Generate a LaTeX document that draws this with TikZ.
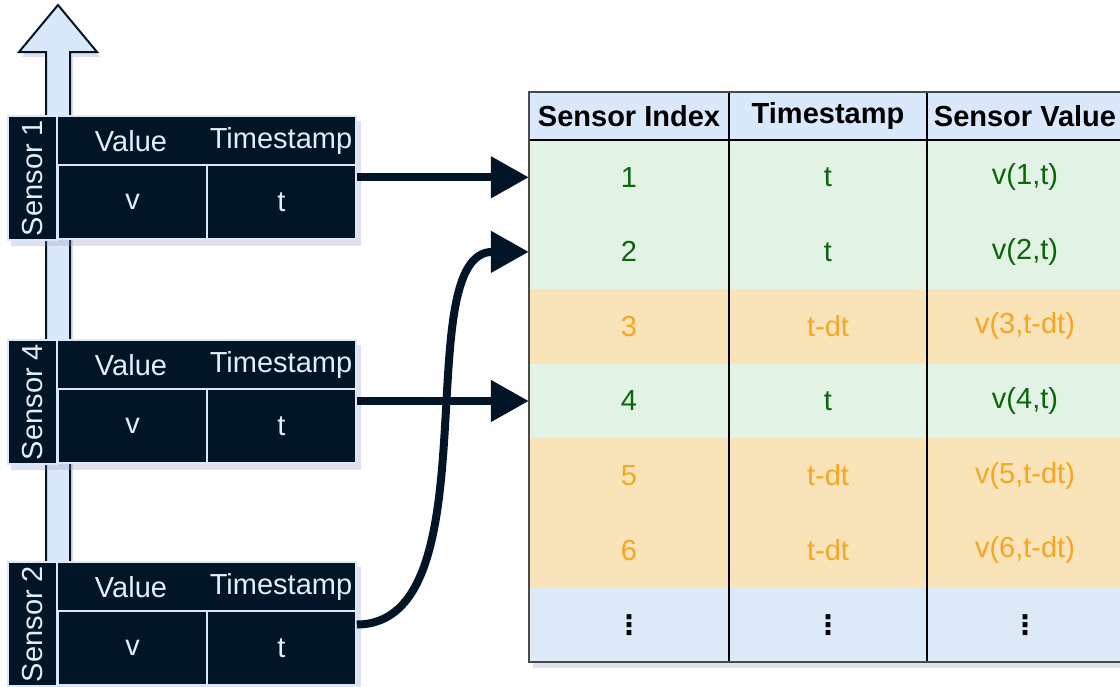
\documentclass[tikz,border=0pt]{standalone}
\usepackage{fontspec}
\setmainfont{Liberation Sans}
\newfontfamily\dotsfont{DejaVu Sans}
\usetikzlibrary{arrows.meta,calc}
\definecolor{dark}{HTML}{011526}
\definecolor{lightb}{HTML}{DAE8FC}
\definecolor{celltext}{HTML}{E4EEF9}
\definecolor{gbg}{HTML}{E2F2E5}
\definecolor{obg}{HTML}{F9E3B8}
\definecolor{bbg}{HTML}{DCE9F7}
\definecolor{gtx}{HTML}{0B660B}
\definecolor{otx}{HTML}{F5A623}
\definecolor{shadowc}{HTML}{8A94B6}
\definecolor{frame}{HTML}{4A4A4A}
\newcommand{\vdotsmark}{{\dotsfont\bfseries\fontsize{27}{30}\selectfont ⋮}}
\begin{document}
\begin{tikzpicture}[x=1pt,y=-1pt,
  font=\fontsize{29}{34}\selectfont,
  dcell/.style={draw=lightb, line width=1.5pt, fill=dark, text=celltext, inner sep=0pt},
  lighttext/.style={text=celltext, inner sep=0pt},
  rowband/.style={draw=none, inner sep=0pt, minimum width=594pt, minimum height=74.57pt},
  hdrtext/.style={font=\fontsize{29}{34}\selectfont\bfseries, text=black, inner sep=0pt},
  conn/.style={draw=dark, line width=8pt, -{Triangle[length=38pt,width=40pt]}},
  shadowfill/.style={fill=shadowc, opacity=0.28}
]
\useasboundingbox (0,0) rectangle (1120,686);

% big upward arrow behind the sensor blocks
\fill[shadowfill] (49,570) -- (49,57) -- (22,57) -- (61,10) -- (100,57) -- (73,57) -- (73,570) -- cycle;
\draw[fill=lightb, draw=dark, line width=2pt, line join=miter]
  (46,566) -- (46,52) -- (19,52) -- (58,5) -- (97,52) -- (70,52) -- (70,566) -- cycle;

% sensor blocks
\foreach \n/\yy in {1/116, 4/340, 2/562}{
  \fill[shadowfill] (11,\yy+5) rectangle (361,\yy+130);
  \node[dcell, rotate=90, minimum width=124pt, minimum height=49pt] (s\n-lab) at (32.5,\yy+62) {Sensor \n};
  \node[dcell, minimum width=299pt, minimum height=49pt] (s\n-hd) at (206.5,\yy+24.5) {};
  \node[lighttext] (s\n-hv) at (131,\yy+25) {Value};
  \node[lighttext] (s\n-ht) at (281,\yy+25) {Timestamp};
  \node[dcell, minimum width=149pt, minimum height=74pt] (s\n-v) at (132.5,\yy+86) {v};
  \node[dcell, minimum width=149pt, minimum height=74pt] (s\n-t) at (281.5,\yy+86) {t};
}

% table
\fill[shadowfill] (533,97) rectangle (1127,668);
\node[rowband, fill=lightb, minimum height=48pt] (hdr) at (826,116) {};
\node[hdrtext] (h1) at (629,116) {Sensor Index};
\node[hdrtext] (h2) at (828,116) {Timestamp};
\node[hdrtext] (h3) at (1025,116) {Sensor Value};

\foreach \i/\bg/\fg/\a/\b/\c in {
  1/gbg/gtx/1/t/{v(1,t)},
  2/gbg/gtx/2/t/{v(2,t)},
  3/obg/otx/3/t-dt/{v(3,t-dt)},
  4/gbg/gtx/4/t/{v(4,t)},
  5/obg/otx/5/t-dt/{v(5,t-dt)},
  6/obg/otx/6/t-dt/{v(6,t-dt)},
  7/bbg/black/{\vdotsmark}/{\vdotsmark}/{\vdotsmark}}{
  \pgfmathsetmacro\yc{140+(\i-0.5)*74.571}
  \node[rowband, fill=\bg] (row\i) at (826,\yc) {};
  \node[text=\fg, inner sep=0pt] (r\i-a) at (629,\yc) {\a};
  \node[text=\fg, inner sep=0pt] (r\i-b) at (828,\yc) {\b};
  \node[text=\fg, inner sep=0pt] (r\i-c) at (1025,\yc) {\c};
}

% grid lines
\draw[black, line width=1.5pt] (729,92) -- (729,662);
\draw[black, line width=1.5pt] (927,92) -- (927,662);
\draw[black, line width=1.5pt] (529,140) -- (1123,140);
\draw[frame, line width=2pt] (529,92) rectangle (1123,662);

% connectors
\draw[conn] (s1-t.east |- row1.west) -- (row1.west);
\draw[conn] (s4-t.east |- row4.west) -- (row4.west);
\draw[conn] ($(s2-t.east)+(0,-23.5)$) .. controls +(138,0) and +(-122,0) .. (row2.west);
\end{tikzpicture}
\end{document}
